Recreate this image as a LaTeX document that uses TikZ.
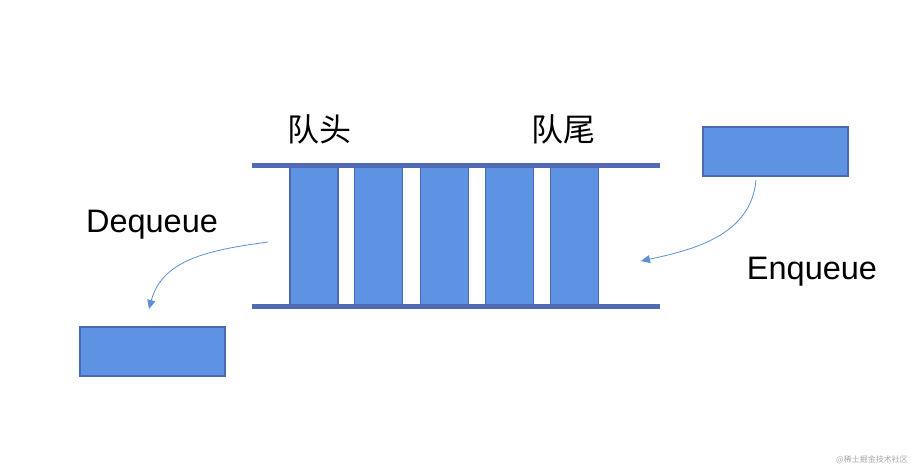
\documentclass[tikz,border=0pt]{standalone}
\usepackage{fontspec}
\setmainfont{Liberation Sans}
\newfontfamily\cjk{Noto Sans CJK SC}
\usetikzlibrary{arrows.meta}
\definecolor{barfill}{HTML}{5E93E3}
\definecolor{barline}{HTML}{4A6BB3}
\definecolor{railcol}{HTML}{4F6BB5}
\definecolor{arrcol}{HTML}{5B8FD8}
\tikzset{
  cell/.style={draw=barline, line width=1.5pt, fill=barfill, minimum width=48pt, minimum height=139pt, inner sep=0pt},
  outbox/.style={draw=barline, line width=1.2pt, fill=barfill, minimum width=145pt, minimum height=49pt, inner sep=0pt},
  rail/.style={draw=railcol, line width=5pt},
  lbl/.style={font=\fontsize{32.5}{32.5}\selectfont, inner sep=0pt},
  cjklbl/.style={font=\cjk\fontsize{32}{32}\selectfont, inner sep=0pt},
  flow/.style={draw=arrcol, line width=0.8pt, -{Triangle[length=9pt,width=8pt]}}
}
\begin{document}
\begin{tikzpicture}[x=1pt,y=1pt]
\useasboundingbox[fill=white] (0,0) rectangle (922,472);
% cells
\node[cell] (c1) at (314,235.5) {};
\node[cell] (c2) at (378.5,235.5) {};
\node[cell] (c3) at (444.5,235.5) {};
\node[cell] (c4) at (509.5,235.5) {};
\node[cell] (c5) at (574.5,235.5) {};
% rails
\coordinate (tl) at (252,306);
\coordinate (tr) at (660,306);
\coordinate (bl) at (252,165);
\coordinate (br) at (660,165);
\draw[rail] (tl) -- (tr);
\draw[rail] (bl) -- (br);
% boxes
\node[outbox] (deq) at (152.5,120.5) {};
\node[outbox] (enq) at (775.5,320.5) {};
% labels
\node[lbl] (deqt) at (152,247) {Dequeue};
\node[lbl] (enqt) at (812,200) {Enqueue};
\node[cjklbl] (head) at (319,343) {队头};
\node[cjklbl] (tail) at (563,343) {队尾};
\node[font=\cjk\fontsize{8}{8}\selectfont, text=gray!70, inner sep=0pt] (wm) at (872,12) {@稀土掘金技术社区};
% arrows
\coordinate (ds) at (268,230);
\coordinate (de) at (149,163);
\coordinate (es) at (756,292);
\coordinate (ee) at (641,211);
\draw[flow] (ds) to[out=188,in=75] (de);
\draw[flow] (es) to[out=265,in=12] (ee);
\end{tikzpicture}
\end{document}
